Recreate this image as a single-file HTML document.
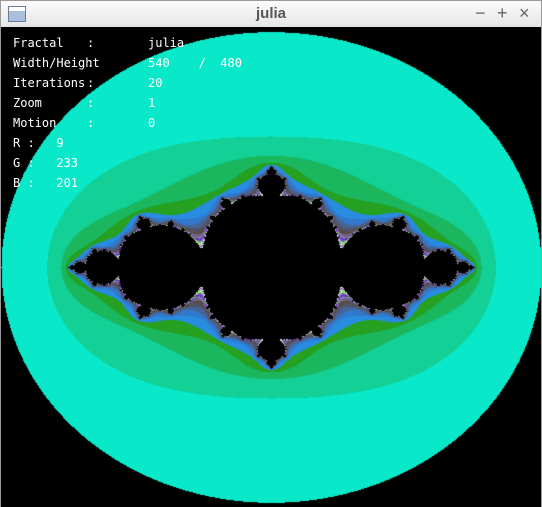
<!DOCTYPE html>
<html><head><meta charset="utf-8"><style>
body{margin:0;width:542px;height:507px;overflow:hidden;background:#fff;font-family:"Liberation Mono",monospace}
#win{position:absolute;left:0;top:0;width:540px;height:505px;border:1px solid #9a9a9a;background:#000}
#title{position:absolute;left:0;top:0;width:540px;height:26px;background:linear-gradient(#fbfbfb,#e6e6e6);border-bottom:1px solid #c8c8c8}
#title .t{position:absolute;left:0;width:100%;top:4px;text-align:center;font:bold 15px "Liberation Sans",sans-serif;color:#555}
#ic{position:absolute;left:7px;top:5px;width:16px;height:14px;border:1px solid #6a7d95;background:linear-gradient(#fff 0 30%,#a8c0de 30%)}
.btn{position:absolute;top:2px;font:18px "Liberation Sans",sans-serif;color:#666}
canvas{position:absolute;left:0;top:26px}
.tx{position:absolute;color:#fff;font:12px "DejaVu Sans Mono","Liberation Mono",monospace;white-space:pre}
</style></head><body>
<div id="win">
<div id="title">
<div id="ic"></div>
<div class="t">julia</div>
<div class="btn" style="left:474px">−</div>
<div class="btn" style="left:496px">+</div>
<div class="btn" style="left:518px">×</div>
</div>
<canvas id="c" width="540" height="480"></canvas>
<div class="tx" style="left:12px;top:35px">Fractal</div>
<div class="tx" style="left:12px;top:55px">Width/Height</div>
<div class="tx" style="left:12px;top:75px">Iterations</div>
<div class="tx" style="left:12px;top:95px">Zoom</div>
<div class="tx" style="left:12px;top:115px">Motion</div>
<div class="tx" style="left:86px;top:35px">:</div>
<div class="tx" style="left:86px;top:55px">:</div>
<div class="tx" style="left:86px;top:75px">:</div>
<div class="tx" style="left:86px;top:95px">:</div>
<div class="tx" style="left:86px;top:115px">:</div>
<div class="tx" style="left:147px;top:35px">julia</div>
<div class="tx" style="left:147px;top:55px">540    /  480</div>
<div class="tx" style="left:147px;top:75px">20</div>
<div class="tx" style="left:147px;top:95px">1</div>
<div class="tx" style="left:147px;top:115px">0</div>
<div class="tx" style="left:12px;top:135px">R :   9</div>
<div class="tx" style="left:12px;top:155px">G :   233</div>
<div class="tx" style="left:12px;top:175px">B :   201</div>
</div>
<script>
const juliaC=[-0.76,0];
const maxIter=[20];
const viewRange=[2.0,2.04];
const palette=[[0,0,0],[9,233,201],[18,208,150],[26,183,95],[38,160,32],[40,140,225],[50,120,205],[70,100,150],[80,85,100],[90,75,70],[110,100,130],[130,120,170],[100,40,200],[140,80,220],[120,220,90],[180,200,220],[160,230,120],[200,200,200],[120,60,180],[200,240,160],[220,220,220]];
const cv=document.getElementById('c');const ctx=cv.getContext('2d');
const W=540,H=480;const img=ctx.createImageData(W,H);
for(let py=0;py<H;py++)for(let px=0;px<W;px++){
 let x=(px-W/2)/(W/2)*viewRange[0],y=(py-H/2)/(H/2)*viewRange[1],n=0;
 while(n<maxIter[0]&&x*x+y*y<=4){const t=x*x-y*y+juliaC[0];y=2*x*y+juliaC[1];x=t;n++;}
 const col=(n>=maxIter[0]&&x*x+y*y<=4)?[0,0,0]:palette[Math.min(n,palette.length-1)];
 const i=(py*W+px)*4;img.data[i]=col[0];img.data[i+1]=col[1];img.data[i+2]=col[2];img.data[i+3]=255;}
ctx.putImageData(img,0,0);
</script>
</body></html>
